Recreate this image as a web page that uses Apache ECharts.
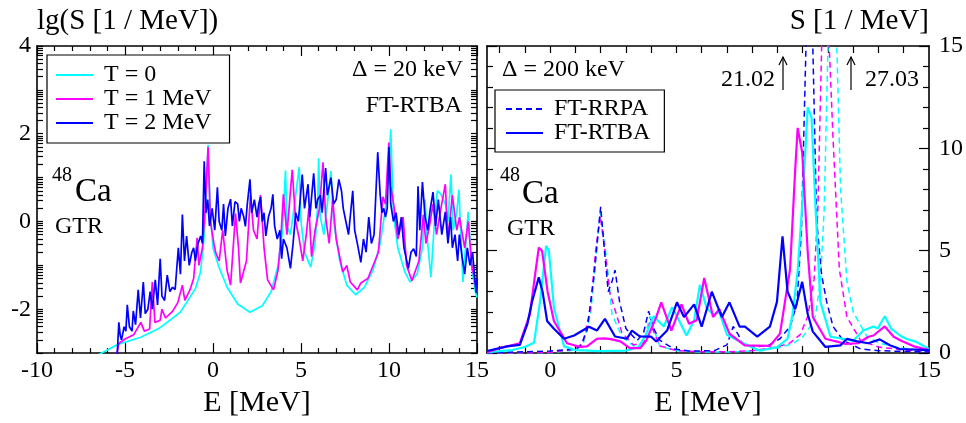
<!DOCTYPE html>
<html><head><meta charset="utf-8">
<script src="https://cdn.jsdelivr.net/npm/echarts@6/dist/echarts.min.js"></script>
<style>html,body{margin:0;padding:0;background:#fff}#c{width:966px;height:423px}</style>
</head><body><div id="c"></div>
<script>
// ---------- Left panel: lg(S) , Delta = 20 keV, FT-RTBA ----------
const leftT0_E = [-6.8,-6.0,-5.4,-4.1,-3.0,-1.86,-1.0,-0.72,-0.55,-0.4,-0.28,-0.15,0.0,0.3,0.8,1.4,2.1,2.8,3.3,3.7,3.95,4.12,4.2,4.4,4.6,4.9,5.0,5.2,5.55,5.8,5.95,6.0,6.1,6.3,6.5,6.7,6.85,7.2,7.6,8.1,8.6,9.1,9.5,9.8,10.0,10.1,10.25,10.5,10.9,11.2,11.6,11.9,12.05,12.15,12.38,12.6,12.75,12.95,13.2,13.35,13.52,13.65,13.85,13.97,14.2,14.5,14.7,14.9,15.0];
const leftT0_S = [-3.1,-2.93,-2.8,-2.64,-2.42,-2.07,-1.53,-1.17,-0.56,0.3,1.75,0.2,-0.6,-1.0,-1.5,-1.88,-2.07,-1.92,-1.6,-1.0,-0.2,1.16,-0.1,-0.3,0.3,1.24,0.0,-0.7,-1.04,-0.5,0.4,1.44,0.1,-0.3,0.4,1.15,0.0,-0.9,-1.45,-1.67,-1.5,-1.1,-0.5,0.3,1.2,2.1,0.2,-0.6,-1.15,-1.38,-1.2,-0.6,0.5,-0.3,-1.27,0.1,0.7,0.62,0.4,0.0,1.07,-0.2,0.2,0.73,-1.38,0.22,-1.0,-1.6,-1.73];

const leftT1_E = [-5.5,-5.35,-5.0,-4.5,-4.1,-3.9,-3.6,-3.45,-3.3,-3.0,-2.9,-2.7,-2.3,-2.0,-1.74,-1.6,-1.3,-1.1,-0.9,-0.8,-0.6,-0.45,-0.28,-0.15,0.05,0.15,0.35,0.55,0.8,1.0,1.28,1.45,1.56,1.9,2.13,2.3,2.5,2.7,2.9,3.1,3.44,3.7,3.85,4.0,4.2,4.5,4.7,4.9,5.1,5.3,5.45,5.6,5.8,6.05,6.25,6.4,6.6,6.8,7.0,7.37,7.6,7.8,8.2,8.4,8.8,9.4,9.65,9.8,9.99,10.1,10.3,10.5,10.8,11.0,11.3,11.7,11.95,12.1,12.3,12.5,12.7,12.95,13.2,13.35,13.6,13.85,14.0,14.3,14.5,14.7,14.9,15.0];
const leftT1_S = [-3.1,-2.78,-2.68,-2.58,-2.3,-2.5,-2.45,-1.38,-2.3,-2.25,-2.0,-2.2,-2.05,-1.85,-1.45,-1.8,-1.55,-1.3,-0.37,-1.0,-0.6,0.3,1.7,0.0,-0.5,-0.7,-0.9,-0.2,-1.11,-1.45,0.18,-0.6,-1.4,-0.9,0.6,-0.2,-0.4,0.6,-0.6,-1.33,-1.56,-1.1,-0.4,0.62,-0.3,1.18,0.0,-0.4,-0.9,-0.3,0.3,-0.8,-0.2,0.3,1.35,0.1,-0.5,0.5,-0.4,-1.15,-1.0,-1.38,-1.56,-1.4,-1.3,-0.7,0.56,0.4,1.8,0.8,0.3,-0.4,0.1,-1.0,-1.35,-0.9,0.15,-0.5,-0.1,0.4,-0.3,0.3,0.85,-0.4,0.6,-0.2,0.1,-0.6,0.0,-1.0,-1.4,-1.6];

const leftT2_E = [-5.45,-5.35,-5.27,-5.2,-5.05,-4.95,-4.87,-4.75,-4.6,-4.53,-4.4,-4.25,-4.12,-3.96,-3.85,-3.7,-3.57,-3.45,-3.28,-3.15,-3.0,-2.9,-2.75,-2.6,-2.45,-2.3,-2.15,-1.97,-1.85,-1.74,-1.62,-1.5,-1.35,-1.2,-1.1,-1.0,-0.85,-0.7,-0.6,-0.5,-0.4,-0.3,-0.2,-0.05,0.1,0.25,0.35,0.5,0.6,0.7,0.85,1.0,1.1,1.25,1.4,1.5,1.6,1.75,1.84,1.95,2.1,2.2,2.35,2.5,2.6,2.7,2.8,2.9,3.0,3.15,3.3,3.4,3.5,3.65,3.8,3.9,4.0,4.2,4.4,4.55,4.7,4.85,5.07,5.2,5.4,5.5,5.72,5.85,5.95,6.1,6.2,6.4,6.5,6.7,6.85,7.0,7.15,7.3,7.4,7.55,7.7,7.94,8.05,8.2,8.4,8.55,8.7,8.85,9.0,9.15,9.36,9.5,9.6,9.7,9.8,9.9,10.0,10.1,10.25,10.4,10.55,10.7,10.85,11.1,11.25,11.4,11.55,11.65,11.75,11.9,12.05,12.2,12.35,12.5,12.65,12.8,13.0,13.2,13.35,13.5,13.6,13.75,13.9,14.0,14.15,14.3,14.45,14.6,14.75,14.85,14.95,15.0];
const leftT2_S = [-3.1,-2.3,-2.6,-2.7,-2.4,-2.5,-1.9,-2.4,-2.5,-2.04,-2.35,-1.56,-2.2,-1.38,-2.1,-2.0,-1.6,-2.0,-1.33,-1.9,-0.85,-1.7,-1.8,-1.22,-1.6,-1.5,-1.55,-0.6,-1.2,0.16,-0.9,-0.33,-1.0,-0.7,-0.6,-0.9,-0.5,-0.33,-0.5,1.37,0.2,0.5,-0.1,0.3,-0.2,0.78,0.0,-0.2,0.4,-0.33,0.3,0.51,-0.1,0.45,0.4,0.0,0.3,0.1,-0.11,0.4,0.96,0.2,0.5,0.1,0.4,0.56,0.0,0.2,-0.33,0.1,0.3,0.62,-0.1,-0.4,-0.2,-0.85,-0.4,-0.6,-1.07,-0.5,0.2,0.0,1.07,0.3,0.85,0.1,1.1,0.3,0.5,0.6,0.2,1.22,0.6,1.0,0.4,0.5,0.96,0.7,0.3,0.0,-0.3,0.7,-0.2,-0.5,-0.93,-0.4,-0.7,0.1,-0.5,-0.3,1.58,0.6,0.2,0.3,0.1,0.3,1.7,0.4,0.0,0.2,-0.3,0.1,-0.6,-1.07,-0.7,-0.62,-0.8,0.8,-0.2,0.9,0.1,-0.2,0.3,0.67,-0.1,0.5,-0.3,0.22,-0.5,0.1,-0.6,-0.3,-0.9,-0.3,-0.8,-1.2,-0.6,-1.0,-0.7,-1.2,-1.62,-1.3];

// ---------- Right panel: S , Delta = 200 keV ----------
const rightRTBA0_E = [-2.5,-1.5,-1.0,-0.64,-0.4,-0.16,-0.05,0.15,0.55,1.0,2.0,3.0,3.5,3.8,4.1,4.5,4.83,5.1,5.4,5.7,5.93,6.2,6.45,6.7,7.0,7.65,8.3,9.0,9.4,9.6,9.8,10.0,10.2,10.35,10.5,10.7,11.1,11.6,12.0,12.4,12.8,12.97,13.25,13.5,13.85,14.1,14.5,15.0];
const rightRTBA0_S = [0.05,0.15,0.3,0.5,2.5,5.24,5.0,2.2,0.33,0.15,0.1,0.12,0.3,0.9,1.8,1.3,2.24,1.6,0.86,1.6,3.33,2.2,1.9,2.0,0.9,0.48,0.12,0.3,0.7,1.9,4.0,7.6,12.0,11.5,7.3,2.5,0.8,0.7,0.6,1.1,1.3,1.2,1.8,1.2,0.86,0.7,0.55,0.2];

const rightRTBA1_E = [-2.5,-2.0,-1.2,-0.8,-0.6,-0.45,-0.32,-0.1,0.15,0.67,1.2,1.46,1.85,2.13,2.4,2.78,3.16,3.56,3.8,4.2,4.4,4.8,5.2,5.5,5.8,6.1,6.45,6.7,7.1,7.7,8.7,9.1,9.5,9.7,9.8,9.98,10.2,10.4,10.9,11.7,12.2,12.6,12.8,13.25,13.6,13.9,14.4,15.0];
const rightRTBA1_S = [0.05,0.24,0.48,1.9,3.8,5.15,5.0,3.0,1.57,0.48,0.3,0.33,0.7,0.72,0.68,0.57,0.24,0.24,0.6,1.76,2.48,1.1,2.38,1.43,1.6,3.67,1.76,2.14,0.95,0.38,0.35,0.95,4.1,8.9,11.0,9.8,4.9,1.76,0.7,0.45,0.48,0.8,0.86,1.3,0.8,0.6,0.33,0.15];

const rightRTBA2_E = [-2.5,-1.7,-1.2,-0.9,-0.72,-0.45,-0.3,-0.12,0.15,0.55,0.95,1.54,1.85,2.17,2.57,3.04,3.24,3.56,4.0,4.2,4.63,5.02,5.3,5.7,6.0,6.4,6.8,7.1,7.5,7.7,8.2,8.7,8.98,9.2,9.4,9.7,9.98,10.2,10.4,10.9,11.5,11.75,12.15,12.6,13.05,13.45,13.85,15.0];
const rightRTBA2_S = [0.1,0.33,0.4,1.43,2.5,3.7,3.0,1.57,1.19,0.7,0.86,1.29,1.1,1.67,0.81,0.7,1.1,0.81,0.8,0.57,1.1,2.48,1.76,2.38,1.29,3.0,1.76,2.48,1.29,1.3,0.81,1.29,2.5,5.7,3.0,2.14,3.48,1.9,1.05,0.3,0.38,0.7,0.57,0.48,0.67,0.38,0.2,0.15];

const rightRRPA0_E = [-2.5,0.0,1.0,1.3,1.6,1.8,1.98,2.15,2.3,2.45,2.84,3.3,3.7,3.95,4.15,4.35,5.0,6.0,7.0,8.0,9.0,9.6,10.0,10.3,10.5,10.7,10.85,11.0,11.17,11.35,11.5,11.75,12.0,12.55,13.0,13.85,15.0];
const rightRRPA0_S = [0.0,0.02,0.15,0.4,1.9,4.5,6.9,5.5,3.8,1.9,0.81,0.35,0.48,1.8,1.0,0.33,0.12,0.05,0.05,0.1,0.25,0.45,0.8,1.3,1.8,3.5,7.0,15.0,27.03,15.0,8.0,3.5,2.0,0.8,0.5,0.25,0.1];

const rightRRPA1_E = [-2.5,0.0,1.0,1.3,1.6,1.8,1.98,2.15,2.35,2.5,2.84,3.3,3.7,3.95,4.15,4.35,5.0,6.0,7.0,8.0,9.0,9.5,9.9,10.2,10.45,10.6,10.75,10.9,11.05,11.2,11.45,11.75,12.3,13.0,14.0,15.0];
const rightRRPA1_S = [0.0,0.03,0.2,0.5,2.2,5.0,6.7,5.2,3.0,2.4,1.0,0.4,0.5,1.5,0.9,0.35,0.12,0.06,0.06,0.12,0.3,0.5,0.9,1.8,3.6,7.0,15.0,24.0,15.0,10.5,4.1,1.76,0.6,0.3,0.15,0.08];

const rightRRPA2_E = [-2.5,-1.5,0.0,1.0,1.2,1.46,1.74,2.0,2.15,2.3,2.45,2.57,2.75,3.0,3.44,3.7,3.9,4.1,4.35,4.9,5.5,6.5,7.0,7.25,7.45,7.6,8.0,8.6,9.1,9.5,9.77,9.95,10.13,10.27,10.4,10.55,10.75,10.95,11.2,11.6,12.3,13.0,14.0,15.0];
const rightRRPA2_S = [0.0,0.05,0.1,0.2,0.33,1.1,3.8,7.14,5.0,3.0,3.5,4.05,2.5,1.2,0.6,1.0,2.05,1.2,0.62,0.2,0.1,0.12,0.4,1.3,0.9,0.48,0.3,0.35,0.7,1.3,2.4,6.0,15.0,21.02,15.0,6.5,3.8,2.5,1.3,0.62,0.2,0.12,0.08,0.05];

// ticks / labels
const leftYLabels = [-2,0,2,4];
const rightXLabels = [0,5,10,15];
const rightXTicks = [-2,-1,0,1,2,3,4,5,6,7,8,9,10,11,12,13,14];

const FONT = '"Liberation Serif","Times New Roman",serif';
const BLACK = '#000';
const CYAN = '#00ffff', MAG = '#ff00ff', BLUE = '#0000ff';
const pairs = (E, S) => E.map((e, i) => [e, S[i]]);

// lg-axis tick positions: every integer decade plus lg(k), k = 2..9
function logTicks() {
  const v = [];
  for (let n = -3; n < 4; n++) {
    for (let k = 1; k < 10; k++) {
      const t = n + Math.log10(k);
      if (t >= -3 && t <= 4) v.push(+t.toFixed(4));
    }
  }
  v.push(4);
  return v;
}
const lineAx = {show: true, onZero: false, lineStyle: {color: BLACK, width: 1.6}};
const tickStyle = {color: BLACK, width: 1.2};
const noSplit = {show: false};
const lbl = (extra) => Object.assign({fontFamily: FONT, fontSize: 24, color: BLACK}, extra);
const nameStyle = {fontFamily: FONT, fontSize: 30, color: BLACK};

const xAxis = [
  {gridIndex: 0, type: 'value', min: -10, max: 15, interval: 5, position: 'bottom',
   axisLine: lineAx, axisTick: {inside: true, length: 10, lineStyle: tickStyle},
   minorTick: {show: true, splitNumber: 5, length: 5, lineStyle: tickStyle},
   axisLabel: lbl({margin: 6}), splitLine: noSplit, minorSplitLine: noSplit,
   name: 'E [MeV]', nameLocation: 'middle', nameGap: 32, nameTextStyle: nameStyle},
  {gridIndex: 0, type: 'value', min: -10, max: 15, interval: 5, position: 'top',
   axisLine: lineAx, axisTick: {inside: true, length: 10, lineStyle: tickStyle},
   minorTick: {show: true, splitNumber: 5, length: 5, lineStyle: tickStyle},
   axisLabel: {show: false}, splitLine: noSplit, minorSplitLine: noSplit},
  {gridIndex: 1, type: 'value', min: -2.5, max: 15, position: 'bottom',
   axisLine: lineAx, axisTick: {inside: true, length: 7, lineStyle: tickStyle, customValues: rightXTicks},
   axisLabel: lbl({margin: 6, customValues: rightXLabels}), splitLine: noSplit,
   name: 'E [MeV]', nameLocation: 'middle', nameGap: 32, nameTextStyle: nameStyle},
  {gridIndex: 1, type: 'value', min: -2.5, max: 15, position: 'top',
   axisLine: lineAx, axisTick: {inside: true, length: 7, lineStyle: tickStyle, customValues: rightXTicks},
   axisLabel: {show: false}, splitLine: noSplit}
];

const yAxis = [
  {gridIndex: 0, type: 'value', min: -3, max: 4, position: 'left',
   axisLine: lineAx, axisTick: {inside: true, length: 6, lineStyle: tickStyle, customValues: logTicks()},
   axisLabel: lbl({margin: 6, customValues: leftYLabels}), splitLine: noSplit,
   name: 'lg(S [1 / MeV])', nameLocation: 'end', nameGap: 10,
   nameTextStyle: {fontFamily: FONT, fontSize: 29, color: BLACK, align: 'left', verticalAlign: 'bottom'}},
  {gridIndex: 0, type: 'value', min: -3, max: 4, position: 'right',
   axisLine: lineAx, axisTick: {inside: true, length: 6, lineStyle: tickStyle, customValues: logTicks()},
   axisLabel: {show: false}, splitLine: noSplit},
  {gridIndex: 1, type: 'value', min: 0, max: 15, interval: 5, position: 'right',
   axisLine: lineAx, axisTick: {inside: true, length: 10, lineStyle: tickStyle},
   minorTick: {show: true, splitNumber: 5, length: 6, lineStyle: tickStyle},
   axisLabel: lbl({margin: 10}), splitLine: noSplit, minorSplitLine: noSplit,
   name: 'S [1 / MeV]', nameLocation: 'end', nameGap: 10,
   nameTextStyle: {fontFamily: FONT, fontSize: 29, color: BLACK, align: 'right', verticalAlign: 'bottom'}},
  {gridIndex: 1, type: 'value', min: 0, max: 15, interval: 5, position: 'left',
   axisLine: lineAx, axisTick: {inside: true, length: 10, lineStyle: tickStyle},
   minorTick: {show: true, splitNumber: 5, length: 6, lineStyle: tickStyle},
   axisLabel: {show: false}, splitLine: noSplit, minorSplitLine: noSplit}
];

function ln(name, E, S, color, xi, yi, width, dashed) {
  return {name, type: 'line', xAxisIndex: xi, yAxisIndex: yi, data: pairs(E, S),
    symbol: 'none', clip: true, animation: false,
    lineStyle: {color, width, type: dashed ? [6, 4] : 'solid'}, itemStyle: {color}};
}

const series = [
  ln('T = 0', leftT0_E, leftT0_S, CYAN, 0, 0, 1.7),
  ln('T = 1 MeV', leftT1_E, leftT1_S, MAG, 0, 0, 1.7),
  ln('T = 2 MeV', leftT2_E, leftT2_S, BLUE, 0, 0, 1.7),
  ln('FT-RRPA T = 0', rightRRPA0_E, rightRRPA0_S, CYAN, 2, 2, 1.5, true),
  ln('FT-RRPA T = 1 MeV', rightRRPA1_E, rightRRPA1_S, MAG, 2, 2, 1.5, true),
  ln('FT-RRPA', rightRRPA2_E, rightRRPA2_S, BLUE, 2, 2, 1.5, true),
  ln('FT-RTBA T = 0', rightRTBA0_E, rightRTBA0_S, CYAN, 2, 2, 2.2),
  ln('FT-RTBA T = 1 MeV', rightRTBA1_E, rightRTBA1_S, MAG, 2, 2, 2.2),
  ln('FT-RTBA', rightRTBA2_E, rightRTBA2_S, BLUE, 2, 2, 2.2)
];

const legendText = {fontFamily: FONT, fontSize: 24, color: BLACK, lineHeight: 24, padding: [0, 0, 0, 6]};
const legend = [
  {data: ['T = 0', 'T = 1 MeV', 'T = 2 MeV'], orient: 'vertical', left: 47, top: 55,
   itemWidth: 37, itemHeight: 14, itemGap: 0, padding: [8, 18, 8, 8], itemStyle: {opacity: 0},
   lineStyle: {width: 2},
   backgroundColor: '#fff', borderColor: BLACK, borderWidth: 1.2, textStyle: legendText, selectedMode: false},
  {data: ['FT-RRPA', 'FT-RTBA'], orient: 'vertical', left: 495, top: 90,
   itemWidth: 37, itemHeight: 14, itemGap: 0, padding: [7, 14, 7, 10], itemStyle: {opacity: 0},
   backgroundColor: '#fff', borderColor: BLACK, borderWidth: 1.2, textStyle: legendText, selectedMode: false}
];

const txt = (text, x, y, size, align) => ({type: 'text', x, y, z: 100,
  style: {text, fill: BLACK, font: size + 'px ' + FONT, textAlign: align || 'left', textVerticalAlign: 'middle'}});
const graphic = [
  txt('\u0394 = 20 keV', 463, 70, 24, 'right'),
  txt('FT-RTBA', 462, 106, 24, 'right'),
  txt('48', 52, 176, 20), txt('Ca', 75, 192, 33), txt('GTR', 55, 227, 24),
  txt('\u0394 = 200 keV', 502, 70, 24),
  txt('48', 500, 176, 20), txt('Ca', 522, 194, 33), txt('GTR', 507, 229, 24),
  txt('21.02', 775, 80, 24, 'right'),
  txt('27.03', 865, 80, 24),
  {type: 'line', z: 100, shape: {x1: 783, y1: 90, x2: 783, y2: 57}, style: {stroke: BLACK, lineWidth: 1.2}},
  {type: 'polyline', z: 100, shape: {points: [[779, 65], [783, 57], [787, 65]]}, style: {stroke: BLACK, fill: null, lineWidth: 1.2}},
  {type: 'line', z: 100, shape: {x1: 851, y1: 90, x2: 851, y2: 57}, style: {stroke: BLACK, lineWidth: 1.2}},
  {type: 'polyline', z: 100, shape: {points: [[847, 65], [851, 57], [855, 65]]}, style: {stroke: BLACK, fill: null, lineWidth: 1.2}}
];

const chart = echarts.init(document.getElementById('c'), null, {renderer: 'canvas'});
chart.setOption({
  animation: false,
  backgroundColor: '#fff',
  grid: [
    {left: 37, top: 46, width: 440, height: 314, containLabel: false},
    {left: 487, top: 46, width: 442, height: 314, containLabel: false}
  ],
  xAxis, yAxis, series, legend, graphic
});
</script></body></html>
